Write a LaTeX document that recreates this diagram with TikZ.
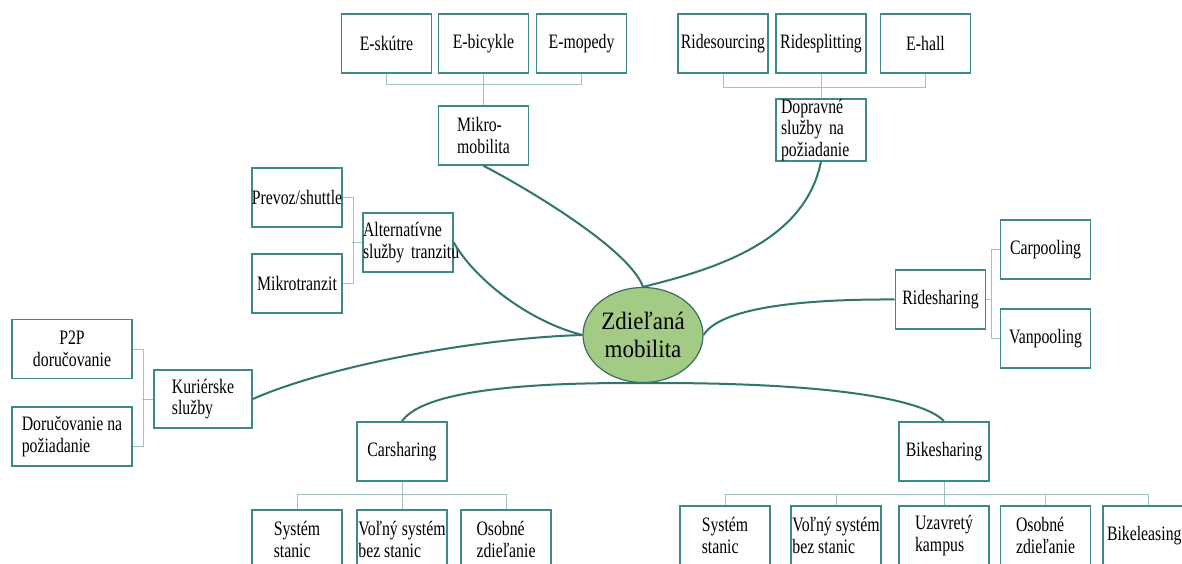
\documentclass[tikz,border=0pt]{standalone}
\usepackage{fontspec}
\setmainfont{Liberation Serif}[FakeStretch=0.77]
\newfontfamily\hubfont{Liberation Serif}[FakeStretch=0.92]
\usepackage{xcolor}
\usetikzlibrary{calc,shapes.geometric}
\definecolor{boxline}{RGB}{62,138,138}
\definecolor{twigline}{RGB}{160,195,195}
\definecolor{branchline}{RGB}{48,118,108}
\definecolor{hubfill}{RGB}{164,203,134}
\definecolor{hubline}{RGB}{58,110,88}

\begin{document}
\begin{tikzpicture}[x=1pt,y=-1pt,
  leaf/.style={draw=boxline, line width=1.6pt, fill=white, inner sep=0pt,
    minimum width=90pt, minimum height=59pt, align=left,
    font=\fontsize{20.5}{21.5}\selectfont},
  twig/.style={draw=twigline, line width=1pt},
  branch/.style={draw=branchline, line width=2pt}]
\useasboundingbox (0,0) rectangle (1182,564);
\fill[white] (0,0) rectangle (1182,564);
% centre
\node[ellipse, draw=hubline, line width=1.2pt, fill=hubfill, minimum width=120pt,
  minimum height=95pt, inner sep=0pt, align=center,
  font=\hubfont\fontsize{25}{28}\selectfont] (hub) at (643,335) {Zdieľaná\\mobilita};
% mikromobilita
\node[leaf] (eskutre) at (386.5,43.5) {E-skútre};
\node[leaf] (ebicykle) at (483.5,43.5) {E-bicykle};
\node[leaf] (emopedy) at (581.5,43.5) {E-mopedy};
\node[leaf] (mikro) at (483.5,135.5) {Mikro-\\mobilita};
\draw[twig] (eskutre.south) -- ++(0,11) -| (emopedy.south);
\draw[twig] (ebicykle.south) -- (mikro.north);
% dopravne sluzby
\node[leaf] (ridesourcing) at (723,43.5) {Ridesourcing};
\node[leaf] (ridesplitting) at (821,43.5) {Ridesplitting};
\node[leaf] (ehall) at (925.5,43.5) {E-hall};
\node[leaf, minimum height=60pt, text width=90pt] (doprav) at (821,130) {\hspace*{5pt}Dopravné\\\hspace*{5pt}služby na\\\hspace*{5pt}požiadanie};
\draw[twig] (ridesourcing.south) -- ++(0,14) -| (ehall.south);
\draw[twig] (ridesplitting.south) -- (doprav.north);
% alternativne sluzby tranzitu
\node[leaf] (prevoz) at (297,197.5) {Prevoz/shuttle};
\node[leaf] (mikrotranzit) at (297,283.5) {Mikrotranzit};
\node[leaf, text width=90pt] (altern) at (408,242.5) {\mbox{Alternatívne}\\\mbox{služby tranzitu}};
\draw[twig] (prevoz.east) -- ++(11,0) |- (mikrotranzit.east);
\draw[twig] (altern.west) -- ++(-10,0);
% kurierske sluzby
\node[leaf, minimum width=120pt, align=center] (p2p) at (72,349) {P2P\\doručovanie};
\node[leaf, minimum width=120pt] (dorucovanie) at (72,436.5) {Doručovanie na\\požiadanie};
\node[leaf, minimum width=98pt, minimum height=58pt] (kurier) at (203,399) {Kuriérske\\služby};
\coordinate (dorucovanieend) at ($(dorucovanie.east)+(0,9.5)$);
\draw[twig] (p2p.east) -- ++(11,0) |- (dorucovanieend);
\draw[twig] (kurier.west) -- ++(-11,0);
% ridesharing
\node[leaf] (rideshar) at (940.5,299.5) {Ridesharing};
\node[leaf] (carpool) at (1045.5,249.5) {Carpooling};
\node[leaf] (vanpool) at (1045.5,338.5) {Vanpooling};
\draw[twig] (carpool.west) -- ++(-8,0) |- (vanpool.west);
\draw[twig] (rideshar.east) -- ++(6,0);
% carsharing
\node[leaf] (carshar) at (402,451.5) {Carsharing};
\node[leaf] (cssystem) at (297,539.5) {Systém\\stanic};
\node[leaf] (csvolny) at (402,539.5) {Voľný systém\\bez stanic};
\node[leaf] (csosobne) at (506,539.5) {Osobné\\zdieľanie};
\draw[twig] (cssystem.north) -- ++(0,-15) -| (csosobne.north);
\draw[twig] (carshar.south) -- (csvolny.north);
% bikesharing
\node[leaf] (bikeshar) at (944,451.5) {Bikesharing};
\node[leaf] (bssystem) at (725,535.5) {Systém\\stanic};
\node[leaf] (bsvolny) at (836,535.5) {Voľný systém\\bez stanic};
\node[leaf] (bskampus) at (944,535.5) {Uzavretý\\kampus};
\node[leaf] (bsosobne) at (1045.5,535.5) {Osobné\\zdieľanie};
\node[leaf, text width=90pt] (bsleasing) at (1148,535.5) {\hspace*{4pt}\mbox{Bikeleasing}};
\draw[twig] (bssystem.north) -- ++(0,-11) -| (bsleasing.north);
\draw[twig] (bikeshar.south) -- (bskampus.north);
\draw[twig] (bsvolny.north) -- ++(0,-11);
\draw[twig] (bsosobne.north) -- ++(0,-11);
% branches to the centre
\draw[branch] (mikro.south) .. controls (530,190) and (630,250) .. (hub.north);
\draw[branch] (doprav.south) .. controls (805,240) and (720,268) .. (hub.north);
\draw[branch] (altern.east) .. controls (475,280) and (530,322) .. (hub.west);
\draw[branch] (kurier.east) .. controls (330,365) and (480,338) .. (hub.west);
\draw[branch] (rideshar.west) .. controls (800,299) and (720,308) .. (hub.east);
\draw[branch] (hub.south) .. controls (500,382) and (420,395) .. (carshar.north);
\draw[branch] (hub.south) .. controls (800,382) and (920,395) .. (bikeshar.north);
\end{tikzpicture}
\end{document}
